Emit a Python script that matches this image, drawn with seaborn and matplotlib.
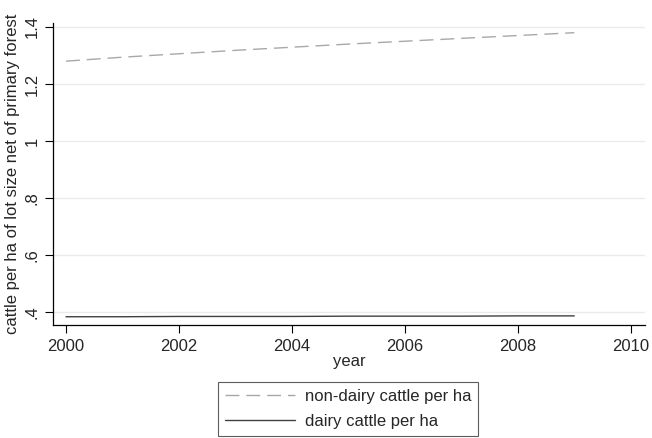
import numpy as np
import pandas as pd
import matplotlib
matplotlib.use("Agg")
import matplotlib.pyplot as plt
import seaborn as sns

years = [2000, 2001, 2002, 2003, 2004, 2005, 2006, 2007, 2008, 2009]
nondairy = [1.280, 1.294, 1.306, 1.318, 1.329, 1.340, 1.350, 1.360, 1.370, 1.380]
dairy = [0.383, 0.383, 0.384, 0.384, 0.384, 0.385, 0.385, 0.385, 0.386, 0.386]
series_names = ["non-dairy cattle per ha", "dairy cattle per ha"]
yticks = [0.4, 0.6, 0.8, 1.0, 1.2, 1.4]
ytick_labels = [".4", ".6", ".8", "1", "1.2", "1.4"]
xticks = [2000, 2002, 2004, 2006, 2008, 2010]

sns.set_style("white")
plt.rcParams["font.family"] = ["Liberation Sans", "DejaVu Sans"]

df = pd.DataFrame({
    "year": years * 2,
    "value": nondairy + dairy,
    "series": [series_names[0]] * len(years) + [series_names[1]] * len(years),
})

fig = plt.figure(figsize=(6.52, 4.38), dpi=100)
ax = fig.add_axes([0.0813, 0.258, 0.9077, 0.6895])

for yv in yticks:
    ax.axhline(yv, color="#ebebeb", lw=1.0, zorder=0)

sns.lineplot(data=df, x="year", y="value", hue="series", style="series",
             palette={series_names[0]: "#a8a8a8", series_names[1]: "#404040"},
             dashes={series_names[0]: (10, 5), series_names[1]: ""},
             linewidth=1.0, ax=ax)

ax.set_xlim(1999.77, 2010.25)
ax.set_ylim(0.354, 1.414)
ax.set_xticks(xticks)
ax.set_xticklabels([str(x) for x in xticks], fontsize=12)
ax.set_yticks(yticks)
ax.set_yticklabels(ytick_labels, fontsize=12, rotation=90, va="center")
ax.tick_params(axis="both", direction="out", length=5.8, width=0.8, color="black",
               bottom=True, left=True, pad=4)
ax.set_xlabel("year", fontsize=12, labelpad=0)
ax.set_ylabel("cattle per ha of lot size net of primary forest", fontsize=12, labelpad=3)
for s in ["top", "right"]:
    ax.spines[s].set_visible(False)
for s in ["left", "bottom"]:
    ax.spines[s].set_color("black")
    ax.spines[s].set_linewidth(0.9)

handles, labels = ax.get_legend_handles_labels()
ax.get_legend().remove()
leg = fig.legend(handles, labels, loc="upper center", bbox_to_anchor=(0.534, 0.128),
                 ncol=1, frameon=True, fontsize=12, handlelength=4.2,
                 handletextpad=0.6, borderpad=0.42, labelspacing=0.6,
                 borderaxespad=0, fancybox=False, edgecolor="#333333")
leg.get_frame().set_linewidth(0.8)

fig.savefig("out.png", dpi=100)
